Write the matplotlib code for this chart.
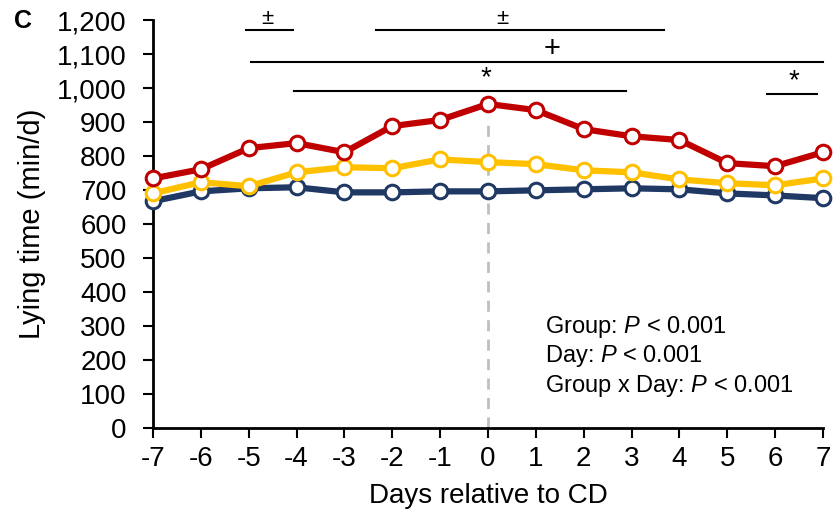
import matplotlib
matplotlib.use("Agg")
import matplotlib.pyplot as plt

plt.rcParams['font.family'] = ['Liberation Sans', 'DejaVu Sans']
plt.rcParams['mathtext.fontset'] = 'custom'
plt.rcParams['mathtext.rm'] = 'Liberation Sans'
plt.rcParams['mathtext.it'] = 'Liberation Sans:italic'

days = list(range(-7, 8))
day_labels = [str(d) for d in days]
red = [734, 761, 823, 838, 811, 888, 906, 953, 935, 879, 858, 847, 779, 770, 811]
red_err = [20, 22, 22, 20, 18, 18, 20, 20, 18, 20, 20, 20, 18, 18, 18]
yellow = [690, 723, 711, 752, 767, 764, 790, 782, 776, 758, 752, 731, 720, 714, 734]
yellow_err = [10, 10, 10, 10, 10, 10, 10, 10, 10, 10, 10, 10, 10, 10, 10]
blue = [667, 696, 705, 708, 693, 693, 696, 696, 699, 702, 705, 702, 690, 684, 676]
blue_err = [8, 8, 8, 8, 8, 8, 8, 8, 8, 8, 8, 8, 8, 8, 8]
yticks = list(range(0, 1201, 100))
ytick_labels = [f"{v:,}" for v in yticks]

# significance bars: (x_start, x_end, y, symbol, text_x, text_y, fontsize)
sig_bars = [
    (-5.06, -4.07, 1171, "±", -4.62, 1203, 16),
    (-2.34, 3.68, 1171, "±", 0.29, 1203, 16),
    (-4.95, 7.0, 1076, "+", 1.34, 1115, 21),
    (-4.05, 2.88, 991, "*", -0.04, 1030, 20),
    (5.83, 6.87, 982, "*", 6.39, 1020, 20),
]

fig = plt.figure(figsize=(8.35, 5.16), dpi=100)
ax = fig.add_axes([153 / 835, 88 / 516, (823 - 153) / 835, (428 - 20) / 516])

ax.axvline(0, ymin=0, ymax=890 / 1200, color='#BFBFBF', lw=2, ls=(0, (4, 3)), zorder=1)

series = [(blue, blue_err, '#1F3864'), (yellow, yellow_err, '#FFC000'), (red, red_err, '#C00000')]
for vals, err, col in series:
    ax.errorbar(days, vals, yerr=err, color=col, ecolor=col, elinewidth=1.2, capsize=0,
                lw=4.5, marker='o', ms=10.5, mfc='white', mec=col, mew=2.2,
                clip_on=False, zorder=3)

for x0, x1, y, sym, tx, ty, fs in sig_bars:
    ax.plot([x0, x1], [y, y], color='black', lw=1.5, clip_on=False, zorder=2)
    ax.text(tx, ty, sym, ha='center', va='center', fontsize=fs, clip_on=False)

ax.set_xlim(-7, 7)
ax.set_ylim(0, 1200)
ax.set_xticks(days)
ax.set_xticklabels(day_labels, fontsize=20)
ax.set_yticks(yticks)
ax.set_yticklabels(ytick_labels, fontsize=20)
ax.tick_params(axis='both', direction='out', length=7, width=1.5)
ax.tick_params(axis='x', pad=6)
ax.tick_params(axis='y', pad=12)
for s in ['top', 'right']:
    ax.spines[s].set_visible(False)
for s in ['left', 'bottom']:
    ax.spines[s].set_linewidth(2)

ax.set_ylabel("Lying time (min/d)", fontsize=21, labelpad=8)
ax.set_xlabel("Days relative to CD", fontsize=20, labelpad=8)

ax.text(1.19, 297, "Group: $\\it{P}$ < 0.001", fontsize=17, va='center')
ax.text(1.19, 212, "Day: $\\it{P}$ < 0.001", fontsize=17, va='center')
ax.text(1.19, 124, "Group x Day: $\\it{P}$ < 0.001", fontsize=17, va='center')

fig.text(23 / 835, 1 - 21 / 516, "C", fontsize=18, fontweight='bold', ha='center', va='center')

fig.savefig("out.png", dpi=100)
